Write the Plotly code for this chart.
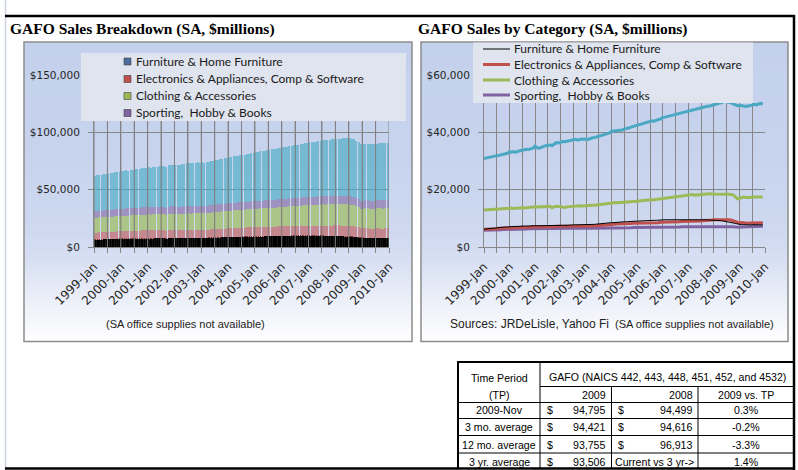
import plotly.graph_objects as go

W, H = 798, 470

# ---------------- data (SA, $millions), monthly 1999-Jan .. 2009-Dec ----------------
tick_labels = ["1999-Jan", "2000-Jan", "2001-Jan", "2002-Jan", "2003-Jan", "2004-Jan",
               "2005-Jan", "2006-Jan", "2007-Jan", "2008-Jan", "2009-Jan", "2010-Jan"]

furniture = [
    6200, 6300, 6400, 6500, 6600, 6700, 6800, 6800, 6900, 6900, 7000, 7000,
    7100, 7100, 7200, 7200, 7200, 7300, 7300, 7300, 7300, 7400, 7400, 7400,
    7400, 7400, 7400, 7500, 7500, 7500, 7500, 7600, 7400, 7500, 7600, 7600,
    7600, 7600, 7500, 7600, 7600, 7700, 7700, 7700, 7700, 7800, 7800, 7800,
    7800, 7700, 7800, 7900, 7900, 8000, 8100, 8200, 8200, 8300, 8300, 8400,
    8500, 8500, 8600, 8600, 8700, 8700, 8800, 8800, 8900, 8900, 9000, 9000,
    9000, 9100, 9100, 9100, 9200, 9200, 9300, 9300, 9300, 9300, 9400, 9400,
    9400, 9500, 9500, 9500, 9600, 9600, 9600, 9600, 9600, 9600, 9700, 9600,
    9600, 9600, 9600, 9600, 9600, 9600, 9600, 9500, 9500, 9500, 9400, 9400,
    9400, 9300, 9200, 9200, 9100, 9000, 8900, 8800, 8600, 8400, 8200, 8000,
    7900, 7800, 7800, 7700, 7700, 7700, 7800, 7800, 7700, 7700, 7700, 7700]

electronics = [
    6200, 6200, 6300, 6300, 6400, 6400, 6400, 6500, 6500, 6500, 6600, 6600,
    6500, 6600, 6700, 6700, 6800, 6800, 6900, 6900, 7000, 7000, 7000, 7100,
    7100, 7000, 7000, 7000, 7100, 7100, 7000, 7000, 6900, 7100, 7200, 7200,
    7100, 7100, 7200, 7200, 7200, 7300, 7300, 7300, 7300, 7300, 7300, 7300,
    7300, 7300, 7200, 7300, 7400, 7400, 7500, 7600, 7600, 7700, 7700, 7800,
    7900, 7900, 8000, 8000, 8000, 8100, 8100, 8200, 8200, 8200, 8300, 8300,
    8300, 8300, 8300, 8400, 8400, 8400, 8500, 8500, 8500, 8500, 8500, 8600,
    8600, 8600, 8700, 8700, 8700, 8700, 8800, 8800, 8800, 8900, 8900, 8900,
    8900, 9000, 9000, 9000, 9100, 9100, 9100, 9200, 9200, 9200, 9300, 9400,
    9500, 9500, 9500, 9500, 9600, 9700, 9600, 9500, 9400, 9200, 8900, 8600,
    8400, 8500, 8400, 8400, 8300, 8400, 8400, 8600, 8400, 8400, 8500, 8500]

clothing = [
    12900, 13000, 13100, 13000, 13100, 13200, 13200, 13300, 13200, 13300, 13400, 13400,
    13500, 13600, 13400, 13500, 13600, 13500, 13700, 13600, 13700, 13800, 13700, 13800,
    14000, 13900, 14100, 14000, 14100, 14000, 14100, 14200, 13700, 14100, 14200, 14200,
    14100, 13900, 13800, 14000, 14100, 14200, 14300, 14200, 14300, 14400, 14300, 14400,
    14500, 14400, 14500, 14600, 14600, 14700, 14800, 14900, 14800, 15000, 15100, 15200,
    15200, 15300, 15500, 15400, 15500, 15600, 15500, 15600, 15700, 15800, 15900, 15900,
    16000, 16100, 16200, 16100, 16300, 16400, 16500, 16400, 16500, 16600, 16700, 16800,
    16900, 17100, 17000, 17200, 17300, 17400, 17400, 17500, 17600, 17700, 17900, 18000,
    18100, 18200, 18300, 18100, 18200, 18300, 18400, 18300, 18400, 18500, 18600, 18500,
    18500, 18400, 18500, 18600, 18600, 18500, 18500, 18400, 18300, 18200, 17600, 16800,
    17000, 17300, 17400, 17300, 17200, 17300, 17400, 17400, 17500, 17400, 17500, 17400]

sporting = [
    5800, 5800, 5900, 5900, 5900, 6000, 6000, 6000, 6000, 6100, 6100, 6100,
    6200, 6200, 6300, 6200, 6300, 6300, 6300, 6300, 6300, 6400, 6400, 6400,
    6400, 6400, 6400, 6500, 6400, 6500, 6500, 6500, 6300, 6500, 6500, 6500,
    6500, 6500, 6400, 6500, 6500, 6500, 6600, 6500, 6500, 6500, 6600, 6500,
    6500, 6500, 6500, 6500, 6600, 6600, 6600, 6600, 6600, 6600, 6600, 6700,
    6600, 6600, 6700, 6700, 6700, 6700, 6700, 6700, 6700, 6700, 6800, 6800,
    6800, 6800, 6800, 6800, 6800, 6800, 6800, 6900, 6900, 6900, 6900, 6900,
    6900, 6900, 6900, 7000, 7000, 7000, 7000, 7000, 7000, 7100, 7100, 7100,
    7100, 7100, 7100, 7200, 7200, 7200, 7200, 7200, 7300, 7300, 7300, 7300,
    7300, 7300, 7300, 7300, 7300, 7300, 7300, 7300, 7200, 7100, 7000, 6900,
    6900, 7000, 7000, 7000, 7000, 7000, 7100, 7200, 7100, 7100, 7200, 7200]

general_merch = [
    30900, 31100, 31300, 31400, 31500, 31700, 31800, 32000, 32100, 32300, 32500, 32700,
    33200, 33100, 33300, 33000, 33400, 33600, 33700, 33800, 34100, 34000, 34300, 34500,
    35200, 34600, 34500, 34900, 35100, 35300, 35500, 35600, 35400, 35900, 36400, 36300,
    36500, 36800, 36700, 36900, 37000, 37200, 37400, 37600, 37300, 37500, 37700, 37600,
    37700, 37500, 37900, 38100, 38200, 38400, 38700, 39000, 39200, 39300, 39500, 39800,
    40400, 40500, 40700, 40600, 40900, 40800, 41200, 41300, 41500, 41800, 42000, 42200,
    42600, 42800, 42900, 43100, 43300, 43500, 43800, 44000, 43900, 44300, 44500, 44700,
    45200, 45300, 45500, 45600, 45800, 46000, 46200, 46300, 46600, 46800, 47000, 47200,
    47500, 47700, 47900, 48000, 48200, 48400, 48600, 48800, 48900, 49100, 49200, 49400,
    49600, 49700, 49900, 50200, 50500, 50800, 50700, 50500, 50300, 49900, 49500, 49300,
    49400, 49300, 49100, 49000, 49200, 49300, 49500, 49800, 49600, 49900, 50100, 49800]

legend_names = ["Furniture & Home Furniture",
                "Electronics & Appliances, Comp & Software",
                "Clothing & Accessories",
                "Sporting,  Hobby & Books"]

# summary table
table_header_tp = ["Time Period", "(TP)"]
table_header_gafo = "GAFO (NAICS 442, 443, 448, 451, 452, and 4532)"
table_col_years = ["2009", "2008", "2009 vs. TP"]
tp_labels = ["2009-Nov", "3 mo. average", "12 mo. average", "3 yr. average"]
gafo_2009 = [94795, 94421, 93755, 93506]
gafo_2008 = [94499, 94616, 96913, None]
pct_vs_tp = [0.3, -0.2, -3.3, 1.4]
current_vs_3yr_text = "Current vs 3 yr->"

# ---------------- helpers ----------------
def px(x):
    return x / W

def py(y):
    return 1 - y / H

n = len(general_merch)
x_bar = [i + 0.5 for i in range(n)]
x_line = list(range(n))
tickvals = list(range(0, 133, 6))
ticktext = [tick_labels[v // 12] if v % 12 == 0 else "" for v in tickvals]

GRID = "#878787"
YTICKFONT = dict(family="DejaVu Sans", size=10.5, color="#262626")
XTICKFONT = dict(family="DejaVu Sans", size=12, color="#262626")

fig = go.Figure()

# ---- left stacked bars ----
bar_series = [
    (furniture, "#000000", 1.0, 0.9, "#000000"),
    (electronics, "#c0504d", 0.6, 0, None),
    (clothing, "#9bbb59", 0.68, 0, None),
    (sporting, "#8064a2", 0.6, 0, None),
    (general_merch, "#4bacc6", 0.66, 0, None),
]
for vals, col, op, lw, lc in bar_series:
    fig.add_trace(go.Bar(x=x_bar, y=vals, xaxis="x", yaxis="y",
                         marker=dict(color=col, opacity=op,
                                     line=dict(width=lw, color=lc or col)),
                         showlegend=False))

# vertical gridlines of the left chart, repeated over the translucent bars
grid_x, grid_y = [], []
for v in tickvals:
    grid_x += [v, v, None]
    grid_y += [0, 150000, None]
fig.add_trace(go.Scatter(x=grid_x, y=grid_y, xaxis="x", yaxis="y", mode="lines",
                         line=dict(color="#808080", width=1), hoverinfo="skip",
                         showlegend=False))

# ---- right lines ----
line_series = [
    (general_merch, "#4aa8c2", 3),
    (clothing, "#9bbb59", 3),
    (sporting, "#7f63a1", 3),
    (electronics, "#c0504d", 3),
    (furniture, "#000000", 1),
]
for vals, col, w in line_series:
    fig.add_trace(go.Scatter(x=x_line, y=vals, xaxis="x2", yaxis="y2", mode="lines",
                             line=dict(color=col, width=w), showlegend=False))

def xax(x0, x1):
    return dict(domain=[px(x0), px(x1)], range=[0, 132], tickmode="array",
                tickvals=tickvals, ticktext=ticktext, tickangle=-45, automargin=False,
                showgrid=True, gridcolor=GRID, gridwidth=1, zeroline=False,
                showline=True, linecolor=GRID, linewidth=1, ticklabelstandoff=2,
                ticks="outside", ticklen=5, tickcolor=GRID, tickfont=XTICKFONT)

def yax(top, dtick, anchor):
    return dict(domain=[py(247), py(75)], range=[0, top], tickmode="linear", tick0=0,
                dtick=dtick, tickprefix="$", tickformat=",d", showgrid=True,
                gridcolor=GRID, gridwidth=1, zeroline=False, showline=True,
                linecolor=GRID, linewidth=1, ticks="outside", ticklen=5, automargin=False,
                tickcolor=GRID, tickfont=YTICKFONT, ticklabelstandoff=6, anchor=anchor)

x1 = xax(94, 389)
x1["anchor"] = "y"
x2 = xax(484, 765)
x2["anchor"] = "y2"

shapes = []
annotations = []

def rect(x0, y0, x1_, y1, fill=None, line=None, lw=0, layer="below"):
    shapes.append(dict(type="rect", xref="paper", yref="paper",
                       x0=px(x0), x1=px(x1_), y0=py(y1), y1=py(y0),
                       fillcolor=fill or "rgba(0,0,0,0)",
                       line=dict(color=line or "rgba(0,0,0,0)", width=lw), layer=layer))

def seg(x0, y0, x1_, y1, color, w, layer="above"):
    shapes.append(dict(type="line", xref="paper", yref="paper",
                       x0=px(x0), x1=px(x1_), y0=py(y0), y1=py(y1),
                       line=dict(color=color, width=w), layer=layer))

def text(t, x, y, size, family="Liberation Sans", anchor="left", color="#000"):
    annotations.append(dict(text=t, x=px(x), y=py(y), xref="paper", yref="paper",
                            xanchor=anchor, yanchor="middle", showarrow=False,
                            font=dict(family=family, size=size, color=color)))

# chart-area gradient backgrounds (styling only)
stops = [(42, (196, 209, 236)), (150, (199, 211, 237)), (232, (206, 217, 240)),
         (262, (216, 224, 243)), (292, (232, 236, 247)), (316, (243, 245, 250)),
         (330, (250, 251, 253)), (342, (255, 255, 255))]

def grad_color(y):
    for (ya, ca), (yb, cb) in zip(stops[:-1], stops[1:]):
        if ya <= y <= yb:
            t = (y - ya) / (yb - ya)
            c = [round(a + (b - a) * t) for a, b in zip(ca, cb)]
            return f"rgb({c[0]},{c[1]},{c[2]})"
    return "rgb(255,255,255)"

for (cx0, cx1) in [(24, 412), (421, 788)]:
    y = 42
    while y < 341:
        rect(cx0, y, cx1, min(y + 3.2, 341), fill=grad_color(y + 1.5))
        y += 3
    rect(cx0, 42, cx1, 341.5, line="#8c8c8c", lw=1.5)

# legends (drawn manually)
rect(81, 53, 406, 121, fill="rgb(223,228,238)", layer="above")
leg_sq_colors = ["#4a6c9e", "#c0504d", "#9bbb59", "#8064a2"]
for i, (name, c) in enumerate(zip(legend_names, leg_sq_colors)):
    yc = [61.5, 79, 96, 113][i]
    rect(124, yc - 3.5, 131, yc + 3.5, fill=c, line="#404040", lw=0.6, layer="above")
    text(name, 133.5, yc, 12, family="Lato", color="#1a1a1a")

rect(473, 42.5, 753, 103, fill="rgb(223,228,238)", layer="above")
leg_line = [("#000000", 1), ("#c0504d", 3), ("#9bbb59", 3), ("#8064a2", 3)]
for i, (name, (c, w)) in enumerate(zip(legend_names, leg_line)):
    yc = [49, 64.5, 80, 95][i]
    seg(483, yc, 510, yc, c, w)
    text(name, 511.5, yc, 12, family="Lato", color="#1a1a1a")

# titles
text("<b>GAFO Sales Breakdown (SA, $millions)</b>", 8, 29, 15.5, family="Liberation Serif")
text("<b>GAFO Sales by Category (SA, $millions)</b>", 416, 29, 15.5, family="Liberation Serif")

# notes
text("(SA office supplies not available)", 185, 324, 11, anchor="center", color="#222")
text("Sources: JRDeLisle, Yahoo Fi", 448, 324, 12, color="#222")
text("(SA office supplies not available)", 613, 324, 11, color="#222")

# outer frame
seg(5.5, 0, 5.5, 470, "#c9d1df", 1.5)
seg(5, 16, 795, 16, "#000000", 2.5)
seg(794, 15, 794, 470, "#000000", 2.5)
seg(5, 468.5, 795, 468.5, "#000000", 2.5)

# table
seg(458, 361, 458, 469, "#000", 2)
seg(457, 362, 795, 362, "#000", 2)
seg(540, 362, 540, 469, "#000", 1)
seg(540, 386.5, 794, 386.5, "#000", 1)
seg(611.5, 386.5, 611.5, 469, "#000", 1)
seg(698, 386.5, 698, 469, "#000", 1)
for yl in [402.5, 418.5, 435.5, 453]:
    seg(458, yl, 794, yl, "#000", 1)

TS = 10.6
text(table_header_tp[0], 499, 378, TS, anchor="center")
text(table_header_tp[1], 499, 395, TS, anchor="center")
text(table_header_gafo, 667, 377, TS, anchor="center")
text(table_col_years[0], 608, 395, TS, anchor="right")
text(table_col_years[1], 695, 395, TS, anchor="right")
text(table_col_years[2], 746, 395, TS, anchor="center")
row_y = [410, 427, 444.5, 462]
for lab, v9, v8, p, yr in zip(tp_labels, gafo_2009, gafo_2008, pct_vs_tp, row_y):
    text(lab, 499, yr, TS, anchor="center")
    text("$", 545, yr, TS)
    text(f"{v9:,}", 608, yr, TS, anchor="right")
    if v8 is None:
        text(current_vs_3yr_text, 613, yr, TS)
    else:
        text("$", 616, yr, TS)
        text(f"{v8:,}", 695, yr, TS, anchor="right")
    text(f"{p:.1f}%", 746, yr, TS, anchor="center")

fig.update_layout(
    width=W, height=H, autosize=False,
    margin=dict(l=0, r=0, t=0, b=0, pad=0),
    paper_bgcolor="white", plot_bgcolor="rgba(0,0,0,0)",
    barmode="stack", bargap=0.4, showlegend=False,
    xaxis=x1, yaxis=yax(150000, 50000, "x"),
    xaxis2=x2, yaxis2=yax(60000, 20000, "x2"),
    shapes=shapes, annotations=annotations,
)

fig.write_html("out.html")
